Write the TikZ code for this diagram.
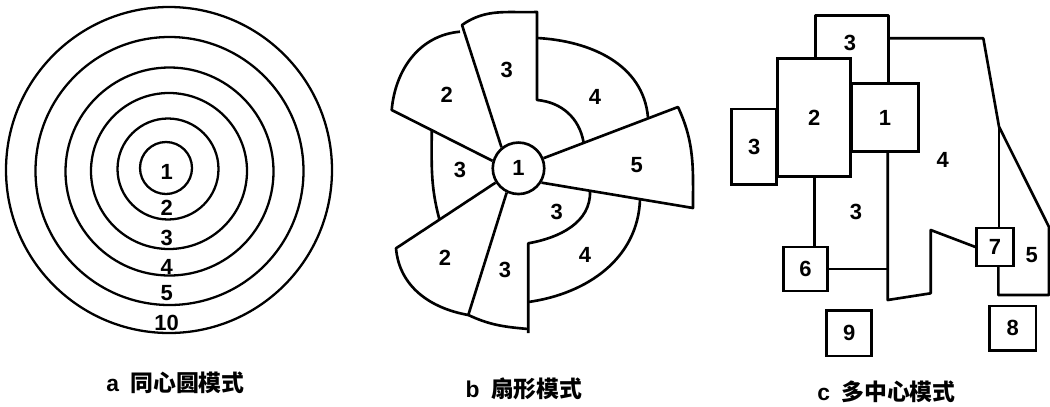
\documentclass[tikz,border=0pt]{standalone}
\usepackage{fontspec}
\setmainfont{Liberation Sans}
\newfontfamily\cjk{Noto Sans CJK SC}

\begin{document}
\begin{tikzpicture}[
    x=0.02cm, y=0.02cm,
    ring/.style={line width=1.3pt},
    edge/.style={line width=1.5pt, line join=round},
    num/.style={font=\fontsize{12.5}{12.5}\selectfont\bfseries, inner sep=0pt},
    caption/.style={font=\fontsize{13}{13}\selectfont\bfseries, inner sep=0pt},
    hub/.style={circle, draw, line width=1.5pt, minimum size=1.03cm, inner sep=0pt,
                font=\fontsize{12.5}{12.5}\selectfont\bfseries},
    zone/.style={draw, line width=1.4pt, inner sep=0pt, font=\fontsize{12.5}{12.5}\selectfont\bfseries}
  ]
  \useasboundingbox (0,0) rectangle (1050,-406);

  % a: concentric rings
  \coordinate (ca) at (169,-170);
  \foreach \dx/\dy/\r in {-3/2/26, -1/1/50.5, 0/-1/78, 0.5/-1.5/104, 0.5/-1/134, 0/0/163}
    \draw[ring] (ca) ++(\dx,\dy) circle (\r);
  \foreach \t/\y in {1/171.7, 2/208.3, 3/238.3, 4/266.7, 5/293.3, 10/323.3}
    \node[num] (a\t) at (166.7,-\y) {\t};
  \node[caption] (capa) at (175.5,-383) {a\enspace{\cjk 同心圆模式}};

  % b: sectors round the centre
  \node[hub] (b1) at (518.5,-168.3) {1};
  \coordinate (t3a) at (462,-25);
  \coordinate (t3b) at (537,-12);
  \coordinate (t3c) at (537,-100);
  \coordinate (t4a) at (537,-38);
  \coordinate (t4b) at (648,-117.5);
  \coordinate (t4c) at (583.5,-142);
  \coordinate (s5a) at (678,-107);
  \coordinate (s5b) at (693,-208);
  \coordinate (l3a) at (590,-191);
  \coordinate (l3b) at (528.3,-243.3);
  \coordinate (l3c) at (528.3,-333);
  \coordinate (l4a) at (640,-199.5);
  \coordinate (l4b) at (528.3,-302);
  \coordinate (m3a) at (468.3,-315);
  \coordinate (m3b) at (528.3,-329);
  \coordinate (d2a) at (396,-248.3);
  \coordinate (u2a) at (391.7,-110);
  \coordinate (u2b) at (460,-31.7);
  \coordinate (w3a) at (431.7,-131);
  \coordinate (w3b) at (439.3,-219);

  \draw[edge] (b1.129) -- (t3a) to[out=35,in=182] (t3b) -- (t3c) to[out=-5,in=100] (t4c);
  \draw[edge] (t4a) to[out=-3,in=95] (t4b);
  \draw[edge] (b1.22) -- (s5a) to[out=-65,in=90] (s5b) -- (b1.-32);
  \draw[edge] (l3a) to[out=-88,in=10] (l3b) -- (l3c);
  \draw[edge] (l4a) to[out=-92,in=8] (l4b);
  \draw[edge] (b1.244) -- (m3a) to[out=-25,in=175] (m3b);
  \draw[edge] (b1.212) -- (d2a) to[out=-85,in=170] (m3a);
  \draw[edge] (b1.164) -- (u2a) to[out=85,in=185] (u2b);
  \draw[edge] (w3a) to[out=-90,in=105] (w3b);

  \node[num] (bt3) at (506.7,-70) {3};
  \node[num] (bu2) at (446.7,-95) {2};
  \node[num] (bt4) at (595,-96.7) {4};
  \node[num] (bw3) at (460,-170) {3};
  \node[num] (b5) at (636.7,-165) {5};
  \node[num] (bl3) at (556.7,-211.7) {3};
  \node[num] (bd2) at (445,-258.3) {2};
  \node[num] (bm3) at (505,-270) {3};
  \node[num] (bl4) at (585,-255) {4};
  \node[caption] (capb) at (524,-389) {b\enspace{\cjk 扇形模式}};

  % c: several centres
  \node[zone, minimum width=1.332cm, minimum height=1.368cm] (c1) at (885,-117.5) {1};
  \node[zone, minimum width=1.46cm, minimum height=2.368cm] (c2) at (814.2,-117.5) {2};
  \node[zone, minimum width=0.9cm, minimum height=1.506cm] (cl3) at (754.2,-146.7) {3};
  \node[zone, minimum width=0.888cm, minimum height=0.874cm] (c6) at (805.5,-269) {6};
  \node[zone, minimum width=0.732cm, minimum height=0.756cm] (c7) at (995,-247) {7};
  \node[zone, minimum width=0.934cm, minimum height=0.894cm] (c8) at (1012.7,-328.3) {8};
  \node[zone, minimum width=0.9cm, minimum height=0.906cm] (c9) at (849.2,-333.3) {9};

  \coordinate (ct1) at (815.7,-15.7);
  \coordinate (ct2) at (888.3,-15.7);
  \coordinate (cr1) at (888.3,-38.3);
  \coordinate (cr2) at (983.3,-38.3);
  \coordinate (cr3) at (999,-126.7);
  \coordinate (cr4) at (1049,-227);
  \coordinate (cr5) at (1049,-295);
  \coordinate (cr6) at (998.3,-295);
  \coordinate (cb1) at (887.7,-300);
  \coordinate (cb2) at (930.7,-293.3);
  \coordinate (cb3) at (930.7,-230);

  \draw[edge] (c2.north -| ct1) -- (ct1) -- (ct2) -- (ct2 |- c1.north);
  \draw[edge] (cr1) -- (cr2) -- (cr3) -- (cr4) -- (cr5) -- (cr6) -- (cr6 |- c7.south);
  \draw[edge] (cr3) -- (cr3 |- c7.north);
  \draw[edge] (c2.south) -- (c2.south |- c6.north);
  \draw[edge] (cb1 |- c1.south) -- (cb1) -- (cb2) -- (cb3) -- (c7.west);
  \draw[edge] (c6.east) -- (c6.east -| cb1);

  \node[num] (ct3) at (850,-43.3) {3};
  \node[num] (c4) at (942.7,-160) {4};
  \node[num] (cm3) at (856,-211.7) {3};
  \node[num] (c5) at (1031.7,-255) {5};
  \node[caption] (capc) at (886.5,-392) {c\enspace{\cjk 多中心模式}};
\end{tikzpicture}
\end{document}
